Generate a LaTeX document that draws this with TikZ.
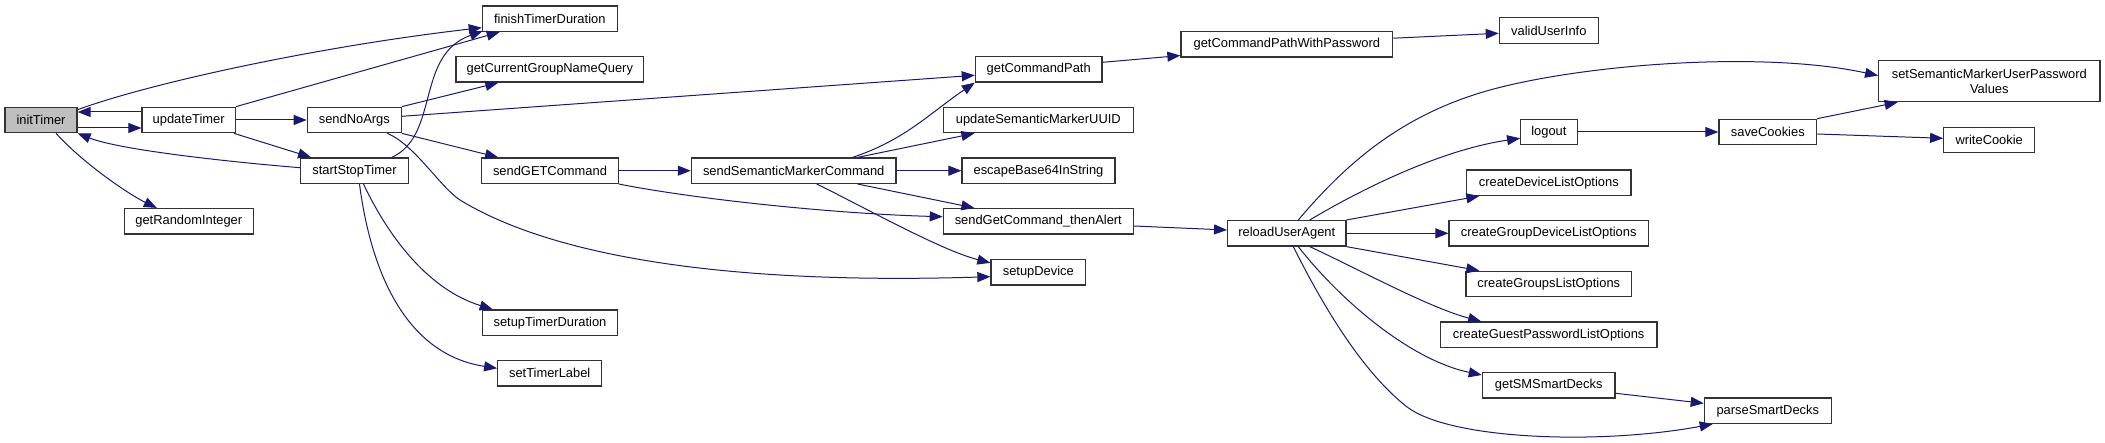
\documentclass[tikz,border=0pt]{standalone}
\usepackage{fontspec}
\setmainfont{Liberation Sans}
\usetikzlibrary{arrows.meta}
\definecolor{edgec}{HTML}{191970}
\definecolor{nodeb}{HTML}{333333}
\definecolor{rootfill}{HTML}{BFBFBF}
\tikzset{
  fn/.style={draw=nodeb, line width=1.2pt, fill=white, inner sep=0pt, minimum height=25.5pt,
    font=\fontsize{12.9}{15}\selectfont, text=black},
  rootfn/.style={fn, fill=rootfill},
  call/.style={draw=edgec, line width=1pt, -{Triangle[length=13pt,width=10pt]}, fill=none}
}
\begin{document}
\begin{tikzpicture}[x=1pt,y=-1pt]
\useasboundingbox (0,0) rectangle (2105,443);
% nodes
\node[rootfn, minimum width=72pt] (initTimer) at (41,120) {initTimer};
\node[fn, minimum width=93.3pt] (updateTimer) at (188.7,120) {updateTimer};
\node[fn, minimum width=94pt] (sendNoArgs) at (354.3,120) {sendNoArgs};
\node[fn, minimum width=107.6pt] (startStopTimer) at (354.5,170.7) {startStopTimer};
\node[fn, minimum width=129pt] (getRandomInteger) at (188.8,221.3) {getRandomInteger};
\node[fn, minimum width=135pt] (finishTimerDuration) at (549.8,18.7) {finishTimerDuration};
\node[fn, minimum width=187.7pt] (getCurrentGroupNameQuery) at (549.8,69.3) {getCurrentGroupNameQuery};
\node[fn, minimum width=136.6pt] (sendGETCommand) at (550,170.7) {sendGETCommand};
\node[fn, minimum width=135.4pt] (setupTimerDuration) at (550,322.7) {setupTimerDuration};
\node[fn, minimum width=104pt] (setTimerLabel) at (549.7,373.3) {setTimerLabel};
\node[fn, minimum width=126.7pt] (getCommandPath) at (1038.7,69.3) {getCommandPath};
\node[fn, minimum width=190pt] (updateSemanticMarkerUUID) at (1038.3,120) {updateSemanticMarkerUUID};
\node[fn, minimum width=204.7pt] (sendSemanticMarkerCommand) at (793.7,170.7) {sendSemanticMarkerCommand};
\node[fn, minimum width=153pt] (escapeBase64InString) at (1038.5,170.7) {escapeBase64InString};
\node[fn, minimum width=190pt] (sendGetCommandThenAlert) at (1038.3,221.3) {sendGetCommand\_thenAlert};
\node[fn, minimum width=94.7pt] (setupDevice) at (1038.3,272.2) {setupDevice};
\node[fn, minimum width=211.7pt] (getCommandPathWithPassword) at (1286.8,44.2) {getCommandPathWithPassword};
\node[fn, minimum width=99pt] (validUserInfo) at (1548.8,30.5) {validUserInfo};
\node[fn, minimum width=118.3pt] (reloadUserAgent) at (1286.8,233.3) {reloadUserAgent};
\node[fn, minimum width=56.5pt] (logout) at (1548.9,132) {logout};
\node[fn, minimum width=164.3pt] (createDeviceListOptions) at (1548.8,182.7) {createDeviceListOptions};
\node[fn, minimum width=199.3pt] (createGroupDeviceListOptions) at (1548.7,233.3) {createGroupDeviceListOptions};
\node[fn, minimum width=165.7pt] (createGroupsListOptions) at (1548.8,284) {createGroupsListOptions};
\node[fn, minimum width=216.7pt] (createGuestPasswordListOptions) at (1548.7,334.7) {createGuestPasswordListOptions};
\node[fn, minimum width=132.7pt] (getSMSmartDecks) at (1548.7,385.3) {getSMSmartDecks};
\node[fn, minimum width=221.3pt, minimum height=41pt, align=center] (setSemanticMarkerUserPasswordValues) at (1989.3,81.2) {setSemanticMarkerUserPassword\\Values};
\node[fn, minimum width=97.7pt] (saveCookies) at (1767.8,132) {saveCookies};
\node[fn, minimum width=91pt] (writeCookie) at (1989.2,140) {writeCookie};
\node[fn, minimum width=127pt] (parseSmartDecks) at (1767.8,410.7) {parseSmartDecks};
% edges
\draw[call] ([yshift=-3pt]initTimer.north east) .. controls (160,80) and (330,45) .. ([yshift=-9pt]finishTimerDuration.west);
\draw[call] ([yshift=8pt]updateTimer.west) -- ([yshift=8pt]initTimer.east);
\draw[call] ([yshift=-8pt]initTimer.east) -- ([yshift=-8pt]updateTimer.west);
\draw[call] ([yshift=3pt]startStopTimer.west) .. controls (230,162) and (120,150) .. (initTimer.south east);
\draw[call] ([xshift=15pt]initTimer.south) .. controls (85,165) and (130,195) .. ([xshift=-32pt]getRandomInteger.north);
\draw[call] (updateTimer.north east) -- ([xshift=18pt]finishTimerDuration.south west);
\draw[call] (updateTimer.east) -- (sendNoArgs.west);
\draw[call] ([xshift=-2pt]updateTimer.south east) -- ([xshift=11pt]startStopTimer.north west);
\draw[call] ([xshift=-17pt]startStopTimer.north east) .. controls (440,135) and (415,55) .. ([xshift=1pt,yshift=1pt]finishTimerDuration.south west);
\draw[call] (sendNoArgs.north east) -- ([xshift=43pt]getCurrentGroupNameQuery.south west);
\draw[call] ([yshift=3.7pt]sendNoArgs.east) -- ([yshift=-6pt]getCommandPath.west);
\draw[call] (sendNoArgs.south east) -- ([xshift=17pt]sendGETCommand.north west);
\draw[call] ([xshift=-14.6pt]sendNoArgs.south east) .. controls (415,145) and (440,187) .. (460,200)
  .. controls (550,255) and (720,285) .. ([yshift=-4.5pt]setupDevice.west);
\draw[call] ([xshift=9pt]startStopTimer.south) .. controls (390,240) and (430,290) .. ([xshift=11pt]setupTimerDuration.north west);
\draw[call] ([xshift=5pt]startStopTimer.south) .. controls (372,280) and (410,355) .. ([yshift=5pt]setTimerLabel.west);
\draw[call] (sendGETCommand.east) -- (sendSemanticMarkerCommand.west);
\draw[call] (sendGETCommand.south east) .. controls (700,200) and (840,214) .. ([yshift=4.6pt]sendGetCommandThenAlert.west);
\draw[call] ([xshift=-44pt]sendSemanticMarkerCommand.north east) .. controls (905,140) and (930,113) .. (getCommandPath.south west);
\draw[call] ([xshift=-39pt]sendSemanticMarkerCommand.north east) -- ([xshift=31.7pt]updateSemanticMarkerUUID.south west);
\draw[call] (sendSemanticMarkerCommand.east) -- (escapeBase64InString.west);
\draw[call] ([xshift=-39pt]sendSemanticMarkerCommand.south east) -- ([xshift=31.7pt]sendGetCommandThenAlert.north west);
\draw[call] ([xshift=23pt]sendSemanticMarkerCommand.south) .. controls (860,205) and (940,250) .. ([yshift=-4pt]setupDevice.north west);
\draw[call] ([yshift=7pt]getCommandPath.east) -- ([yshift=2pt]getCommandPathWithPassword.south west);
\draw[call] ([yshift=6pt]getCommandPathWithPassword.east) -- ([yshift=-2.8pt]validUserInfo.west);
\draw[call] ([yshift=-4.7pt]sendGetCommandThenAlert.east) -- ([yshift=3.3pt]reloadUserAgent.west);
\draw[call] ([xshift=11.5pt]reloadUserAgent.north) .. controls (1345,165) and (1400,115) .. (1490,90)
  .. controls (1580,65) and (1760,50) .. ([yshift=-15.5pt]setSemanticMarkerUserPasswordValues.north west);
\draw[call] ([xshift=23pt]reloadUserAgent.north) .. controls (1360,190) and (1440,150) .. ([yshift=-6.3pt]logout.west);
\draw[call] (reloadUserAgent.north east) -- ([xshift=13.3pt]createDeviceListOptions.south west);
\draw[call] (reloadUserAgent.east) -- (createGroupDeviceListOptions.west);
\draw[call] (reloadUserAgent.south east) -- ([xshift=14pt]createGroupsListOptions.north west);
\draw[call] ([xshift=23pt]reloadUserAgent.south) .. controls (1360,270) and (1430,308) .. ([xshift=41.4pt]createGuestPasswordListOptions.north west);
\draw[call] ([xshift=11.5pt]reloadUserAgent.south) .. controls (1340,300) and (1410,360) .. ([yshift=10.3pt]getSMSmartDecks.west);
\draw[call] ([xshift=6.5pt]reloadUserAgent.south) .. controls (1320,300) and (1360,370) .. (1406.7,406.7)
  .. controls (1450,440) and (1600,445) .. ([xshift=9pt]parseSmartDecks.south west);
\draw[call] ([yshift=-8pt]getSMSmartDecks.east) -- ([yshift=7.4pt]parseSmartDecks.west);
\draw[call] (logout.east) -- (saveCookies.west);
\draw[call] (saveCookies.north east) -- ([xshift=19.6pt]setSemanticMarkerUserPasswordValues.south west);
\draw[call] ([yshift=-2pt]saveCookies.east) -- ([yshift=1.7pt]writeCookie.west);
\end{tikzpicture}
\end{document}
